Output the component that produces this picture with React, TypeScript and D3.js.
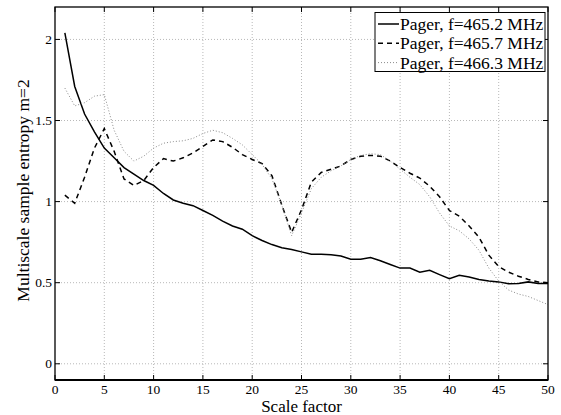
import * as d3 from 'd3';
import { useEffect, useRef } from 'react';

// scale factors 1..50
const scales = d3.range(1, 51);

const pager4652 = [
  2.04, 1.71, 1.54, 1.43, 1.33, 1.27, 1.21, 1.17, 1.13, 1.10,
  1.05, 1.01, 0.99, 0.975, 0.945, 0.915, 0.88, 0.85, 0.83, 0.79,
  0.76, 0.735, 0.715, 0.705, 0.69, 0.675, 0.675, 0.672, 0.665, 0.645,
  0.645, 0.655, 0.635, 0.612, 0.59, 0.59, 0.565, 0.577, 0.55, 0.524,
  0.546, 0.535, 0.52, 0.51, 0.505, 0.493, 0.495, 0.505, 0.495, 0.495,
];

const pager4657 = [
  1.04, 0.99, 1.15, 1.33, 1.45, 1.31, 1.14, 1.10, 1.13, 1.21,
  1.265, 1.25, 1.27, 1.30, 1.34, 1.38, 1.37, 1.335, 1.29, 1.26,
  1.235, 1.16, 0.98, 0.81, 0.95, 1.12, 1.18, 1.20, 1.22, 1.26,
  1.28, 1.285, 1.28, 1.25, 1.21, 1.175, 1.145, 1.095, 1.03, 0.945,
  0.91, 0.85, 0.78, 0.67, 0.60, 0.565, 0.54, 0.52, 0.505, 0.50,
];

const pager4663 = [
  1.70, 1.59, 1.61, 1.65, 1.66, 1.44, 1.31, 1.25, 1.28, 1.33,
  1.36, 1.37, 1.375, 1.39, 1.42, 1.44, 1.425, 1.39, 1.35, 1.29,
  1.23, 1.14, 0.98, 0.79, 0.93, 1.08, 1.15, 1.19, 1.22, 1.26,
  1.285, 1.295, 1.29, 1.25, 1.20, 1.15, 1.105, 1.03, 0.93, 0.85,
  0.82, 0.77, 0.70, 0.59, 0.51, 0.455, 0.43, 0.415, 0.39, 0.365,
];

const seriesLabels = ['Pager, f=465.2 MHz', 'Pager, f=465.7 MHz', 'Pager, f=466.3 MHz'];
const xTicks = [0, 5, 10, 15, 20, 25, 30, 35, 40, 45, 50];
const yTicks = [0, 0.5, 1, 1.5, 2];

const FONT = "'Liberation Serif', 'Times New Roman', serif";

export default function App() {
  const ref = useRef<SVGSVGElement>(null);
  const width = 561;
  const height = 415;

  useEffect(() => {
    const svg = d3.select(ref.current);
    svg.selectAll('*').remove();

    const margin = { top: 7, right: 13, bottom: 35, left: 55 };
    const x = d3.scaleLinear().domain([0, 50]).range([margin.left, width - margin.right]);
    const y = d3.scaleLinear().domain([-0.1, 2.2]).range([height - margin.bottom, margin.top]);
    const [x0, x1] = x.range();
    const [y0, y1] = y.range();

    svg.append('rect')
      .attr('width', width).attr('height', height).attr('fill', '#fff');

    // grid
    const grid = svg.append('g')
      .attr('stroke', '#b8b8b8')
      .attr('stroke-width', 1)
      .attr('stroke-dasharray', '1,2');
    grid.selectAll('.gx')
      .data(xTicks.slice(1, -1))
      .enter().append('line')
      .attr('x1', d => x(d)).attr('x2', d => x(d))
      .attr('y1', y0).attr('y2', y1);
    grid.selectAll('.gy')
      .data(yTicks)
      .enter().append('line')
      .attr('x1', x0).attr('x2', x1)
      .attr('y1', d => y(d)).attr('y2', d => y(d));

    // ticks (inside, on all four sides)
    const tl = 5;
    const ticks = svg.append('g').attr('stroke', '#000').attr('stroke-width', 1);
    xTicks.forEach(t => {
      ticks.append('line').attr('x1', x(t)).attr('x2', x(t)).attr('y1', y0).attr('y2', y0 - tl);
      ticks.append('line').attr('x1', x(t)).attr('x2', x(t)).attr('y1', y1).attr('y2', y1 + tl);
    });
    yTicks.forEach(t => {
      ticks.append('line').attr('x1', x0).attr('x2', x0 + tl).attr('y1', y(t)).attr('y2', y(t));
      ticks.append('line').attr('x1', x1).attr('x2', x1 - tl).attr('y1', y(t)).attr('y2', y(t));
    });

    // tick labels
    svg.append('g')
      .selectAll('text')
      .data(xTicks)
      .enter().append('text')
      .attr('x', d => x(d))
      .attr('y', y0 + 13.5)
      .attr('text-anchor', 'middle')
      .style('font-family', FONT)
      .style('font-size', '13.5px')
      .text(d => String(d));

    svg.append('g')
      .selectAll('text')
      .data(yTicks)
      .enter().append('text')
      .attr('x', x0 - 3)
      .attr('y', d => y(d) + 4.5)
      .attr('text-anchor', 'end')
      .style('font-family', FONT)
      .style('font-size', '13.5px')
      .text(d => String(d));

    // lines
    const line = d3.line<number>()
      .x((_, i) => x(scales[i]))
      .y(d => y(d));

    const styles = [
      { data: pager4652, stroke: '#000', width: 1.5, dash: null },
      { data: pager4657, stroke: '#000', width: 1.5, dash: '5,4' },
      { data: pager4663, stroke: '#8a8a8a', width: 1, dash: '1,2' },
    ];

    styles.forEach(s => {
      svg.append('path')
        .datum(s.data)
        .attr('fill', 'none')
        .attr('stroke', s.stroke)
        .attr('stroke-width', s.width)
        .attr('stroke-dasharray', s.dash)
        .attr('d', line);
    });

    // axes box
    svg.append('rect')
      .attr('x', x0).attr('y', y1)
      .attr('width', x1 - x0).attr('height', y0 - y1)
      .attr('fill', 'none')
      .attr('stroke', '#000')
      .attr('stroke-width', 1.3);
    svg.append('line')
      .attr('x1', x0).attr('x2', x1).attr('y1', y0).attr('y2', y0)
      .attr('stroke', '#000').attr('stroke-width', 2);

    // axis labels
    svg.append('text')
      .attr('x', (x0 + x1) / 2)
      .attr('y', 412)
      .attr('text-anchor', 'middle')
      .style('font-family', FONT)
      .style('font-size', '17px')
      .text('Scale factor');

    svg.append('text')
      .attr('transform', `translate(29,${(y0 + y1) / 2 - 3}) rotate(-90)`)
      .attr('text-anchor', 'middle')
      .style('font-family', FONT)
      .style('font-size', '17.5px')
      .text('Multiscale sample entropy m=2');

    // legend
    const lg = svg.append('g');
    lg.append('rect')
      .attr('x', 375).attr('y', 12.5)
      .attr('width', 170).attr('height', 59)
      .attr('fill', '#fff')
      .attr('stroke', '#000')
      .attr('stroke-width', 1);
    styles.forEach((s, i) => {
      const cy = 24 + i * 19.3;
      lg.append('line')
        .attr('x1', 378).attr('x2', 399)
        .attr('y1', cy).attr('y2', cy)
        .attr('stroke', s.stroke)
        .attr('stroke-width', s.width)
        .attr('stroke-dasharray', s.dash);
      lg.append('text')
        .attr('x', 400)
        .attr('y', cy + 6)
        .style('font-family', FONT)
        .style('font-size', '17.5px')
        .text(seriesLabels[i]);
    });
  }, []);

  return (
    <svg
      ref={ref}
      width={width}
      height={height}
      style={{ position: 'absolute', left: 0, top: 0, display: 'block' }}
    />
  );
}
